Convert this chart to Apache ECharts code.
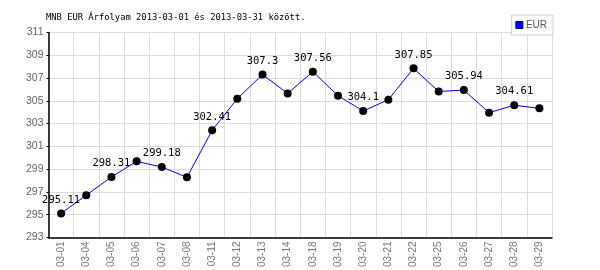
<!DOCTYPE html>
<html>
<head>
<meta charset="utf-8">
<script src="https://cdn.jsdelivr.net/npm/echarts@6/dist/echarts.min.js"></script>
<style>html,body{margin:0;padding:0;background:#fff}#c{width:600px;height:270px}</style>
</head>
<body>
<div id="c"></div>
<script>
var titleText = 'MNB EUR Árfolyam 2013-03-01 és 2013-03-31 között.';
var seriesName = 'EUR';
var categories = ['03-01','03-04','03-05','03-06','03-07','03-08','03-11','03-12','03-13','03-14','03-18','03-19','03-20','03-21','03-22','03-25','03-26','03-27','03-28','03-29'];
var values = [295.11, 296.71, 298.31, 299.68, 299.18, 298.28, 302.41, 305.19, 307.3, 305.65, 307.56, 305.45, 304.1, 305.10, 307.85, 305.82, 305.94, 303.96, 304.61, 304.34];
var labeledIndex = [0, 2, 4, 6, 8, 10, 12, 14, 16, 18];
var yMin = 293, yMax = 311, yStep = 2;

var chart = echarts.init(document.getElementById('c'), null, {renderer: 'canvas'});
var dataItems = values.map(function (v, i) {
  return {value: v, label: {show: labeledIndex.indexOf(i) >= 0}};
});
chart.setOption({
  animation: false,
  backgroundColor: '#fff',
  title: {
    text: titleText,
    left: 41, top: 8,
    textStyle: {fontFamily: 'DejaVu Sans Mono', fontSize: 8.8, fontWeight: 'normal', color: '#000'}
  },
  legend: {
    data: [seriesName],
    right: 47, top: 15,
    orient: 'vertical',
    icon: 'rect', itemWidth: 7, itemHeight: 7,
    padding: [4, 6, 4, 4],
    borderColor: '#cccccc', borderWidth: 1,
    backgroundColor: '#fff',
    z: 10,
    textStyle: {fontFamily: 'Liberation Sans', fontSize: 10, color: '#555', lineHeight: 12, padding: [0, 0, 0, -2]},
    itemStyle: {color: '#0000ff', borderColor: '#000066', borderWidth: 1}
  },
  grid: {left: 48.5, right: 48, top: 32.5, bottom: 31.5, containLabel: false},
  xAxis: {
    type: 'category',
    data: categories,
    boundaryGap: true,
    axisLine: {lineStyle: {color: '#000', width: 1.5}},
    axisTick: {show: false},
    axisLabel: {rotate: 90, fontFamily: 'Liberation Sans', fontSize: 10, color: '#777', margin: 4, interval: 0},
    splitLine: {show: true, lineStyle: {color: '#dcdcdc', width: 1}}
  },
  yAxis: {
    type: 'value',
    min: yMin, max: yMax, interval: yStep,
    axisLine: {show: true, lineStyle: {color: '#000', width: 1.5}},
    axisTick: {show: true, length: 2, lineStyle: {color: '#000'}},
    axisLabel: {fontFamily: 'Liberation Sans', fontSize: 10.5, color: '#666', margin: 5},
    splitLine: {show: true, lineStyle: {color: '#dcdcdc', width: 1}}
  },
  series: [{
    name: seriesName,
    type: 'line',
    data: dataItems,
    symbol: 'circle',
    symbolSize: 8,
    itemStyle: {color: '#000'},
    lineStyle: {color: '#0000ff', width: 1},
    label: {position: 'top', distance: 4, fontFamily: 'DejaVu Sans Mono', fontSize: 10.5, color: '#000'},
    emphasis: {disabled: true}
  }]
});
</script>
</body>
</html>
